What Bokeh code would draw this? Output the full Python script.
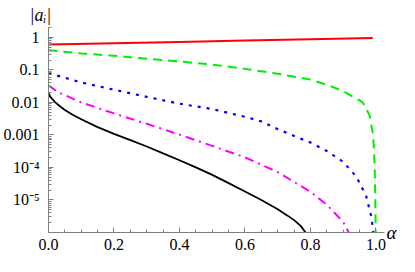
from bokeh.plotting import figure
from bokeh.models import FixedTicker, PrintfTickFormatter, Range1d, LogAxis
from bokeh.embed import file_html
from bokeh.resources import INLINE

# ---- data (alpha, |a_i|) ----
alpha_red = [0.0, 0.2, 0.4, 0.6, 0.8, 0.99]
a_red = [0.60, 0.66, 0.72, 0.79, 0.87, 0.95]

alpha_green = [0.0, 0.1, 0.2, 0.3, 0.4, 0.5, 0.6, 0.7, 0.8, 0.86, 0.9, 0.95, 0.96,
               0.98, 0.99, 0.993, 0.996, 0.998, 0.999]
a_green = [0.40, 0.32, 0.27, 0.22, 0.18, 0.145, 0.107, 0.076, 0.050, 0.032, 0.022,
           0.0115, 0.0098, 0.0041, 0.00115, 5e-4, 1.05e-4, 1e-5, 1e-6]

alpha_blue = [0.0, 0.1, 0.2, 0.3, 0.4, 0.5, 0.6, 0.65, 0.7, 0.75, 0.8, 0.85, 0.9,
              0.94, 0.97, 0.985, 0.99, 0.992]
a_blue = [0.079, 0.041, 0.0245, 0.0148, 0.0091, 0.0062, 0.0036, 0.0026, 0.0015,
          9.3e-4, 5.8e-4, 3.2e-4, 1.48e-4, 5.2e-5, 1.32e-5, 3.3e-6, 1.5e-6, 1e-6]

alpha_magenta = [0.0, 0.03, 0.1, 0.2, 0.3, 0.4, 0.5, 0.6, 0.7, 0.8, 0.85, 0.9, 0.917]
a_magenta = [0.033, 0.0204, 0.010, 0.00457, 0.00219, 0.00102, 4.6e-4, 2.04e-4,
             7.2e-5, 1.78e-5, 7.1e-6, 2.1e-6, 1e-6]

alpha_black = [0.0, 0.005, 0.01, 0.02, 0.035, 0.05, 0.075, 0.1, 0.15, 0.2, 0.25, 0.3,
               0.35, 0.4, 0.45, 0.5, 0.55, 0.6, 0.65, 0.7, 0.73, 0.75, 0.77, 0.785]
a_black = [0.020, 0.0151, 0.0132, 0.0102, 0.0076, 0.0058, 0.0041, 0.00302, 0.00174,
           0.00107, 6.9e-4, 4.4e-4, 2.7e-4, 1.66e-4, 1.0e-4, 5.9e-5, 3.3e-5, 1.82e-5,
           1.0e-5, 5.2e-6, 3.3e-6, 2.4e-6, 1.6e-6, 1e-6]

x_ticks = [0.0, 0.2, 0.4, 0.6, 0.8, 1.0]
y_ticks = [1e-5, 1e-4, 1e-3, 1e-2, 1e-1, 1.0]
y_tick_labels = ["10\u207b\u2075", "10\u207b\u2074", "0.001", "0.01", "0.1", "1"]
x_title = "\u03b1"
y_title = "|a\u1d62|"

SERIF = "Liberation Serif"
AXIS_GRAY = "#808080"

p = figure(width=399, height=256, y_axis_type="log",
           x_range=Range1d(0, 1.026), y_range=Range1d(1e-6, 2.0),
           output_backend="svg", toolbar_location=None,
           min_border_left=45, min_border_right=15,
           min_border_top=25, min_border_bottom=24)
p.outline_line_color = None
p.grid.visible = False
p.background_fill_color = "white"
p.border_fill_color = "white"

p.line(alpha_red, a_red, line_color="#ff0000", line_width=2)
p.line(alpha_green, a_green, line_color="#00ee00", line_width=2, line_dash="9 6")
p.line(alpha_blue, a_blue, line_color="#0000ff", line_width=2.2, line_dash="3 6")
p.line(alpha_magenta, a_magenta, line_color="#ff00ff", line_width=2, line_dash="9 5 2 5")
p.line(alpha_black, a_black, line_color="#000000", line_width=1.8)

# x axis
xminor = [round(0.05 * k, 2) for k in range(1, 21) if k % 4 != 0]
p.xaxis.ticker = FixedTicker(ticks=x_ticks, minor_ticks=xminor)
p.xaxis.formatter = PrintfTickFormatter(format="%.1f")

# y axis
yminor = [m * 10.0 ** e for e in range(-6, 1) for m in range(2, 10)]
p.yaxis.ticker = FixedTicker(ticks=y_ticks, minor_ticks=yminor)
p.yaxis.major_label_overrides = {t: s for t, s in zip(y_ticks, y_tick_labels)}

for ax in (p.xaxis, p.yaxis):
    ax.axis_line_color = AXIS_GRAY
    ax.axis_line_width = 1
    ax.major_tick_line_color = AXIS_GRAY
    ax.minor_tick_line_color = AXIS_GRAY
    ax.major_tick_in = 5
    ax.major_tick_out = 0
    ax.minor_tick_in = 3
    ax.minor_tick_out = 0
    ax.major_label_text_font = SERIF
    ax.major_label_text_font_size = "16px"
    ax.major_label_text_color = "black"
p.xaxis.major_label_standoff = 6
p.yaxis.major_label_standoff = 9

# alpha: a label-only axis on the right, at the bottom of the range
ra = LogAxis(ticker=FixedTicker(ticks=[1e-6], minor_ticks=[]),
             axis_line_color=None, major_tick_line_color=None,
             minor_tick_line_color=None, major_tick_in=0, major_tick_out=0,
             minor_tick_in=0, minor_tick_out=0, major_label_standoff=2,
             major_label_text_font=SERIF, major_label_text_font_size="19px",
             major_label_text_font_style="italic", major_label_text_color="black")
ra.major_label_overrides = {1e-6: x_title}
p.add_layout(ra, "right")

# |a_i| as title at top left
p.title.text = y_title
p.title.align = "left"
p.title.offset = -19
p.title.standoff = 5
p.title.text_font = SERIF
p.title.text_font_style = "italic"
p.title.text_font_size = "18px"
p.title.text_color = "black"

open("out.html", "w").write(file_html(p, INLINE))
